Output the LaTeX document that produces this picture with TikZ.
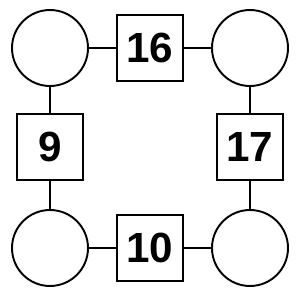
\documentclass[tikz,border=0pt]{standalone}
\usepackage{fontspec}
\setmainfont{Liberation Sans}
\usetikzlibrary{positioning}

\begin{document}
\begin{tikzpicture}[
  ring/.style={circle,draw,line width=1.1pt,minimum size=1.52cm,inner sep=0pt},
  box/.style={rectangle,draw,line width=1.1pt,minimum size=1.32cm,inner sep=0pt,
              font=\fontsize{24}{24}\selectfont\bfseries},
  link/.style={line width=1.1pt}
]
\useasboundingbox (0,0) rectangle (6,6);
\node[ring] (tl) at (1.0,5.04) {};
\node[ring] (tr) at (5.0,5.04) {};
\node[ring] (bl) at (1.0,1.04) {};
\node[ring] (br) at (5.0,1.04) {};
\node[box] (top)   at (3.0,5.04) {16};
\node[box] (left)  at (1.0,3.06) {9};
\node[box] (right) at (5.0,3.06) {17};
\node[box] (bot)   at (3.0,1.04) {10};

\draw[link] (tl)--(top);
\draw[link] (top)--(tr);
\draw[link] (tl)--(left);
\draw[link] (left)--(bl);
\draw[link] (tr)--(right);
\draw[link] (right)--(br);
\draw[link] (bl)--(bot);
\draw[link] (bot)--(br);
\end{tikzpicture}
\end{document}
